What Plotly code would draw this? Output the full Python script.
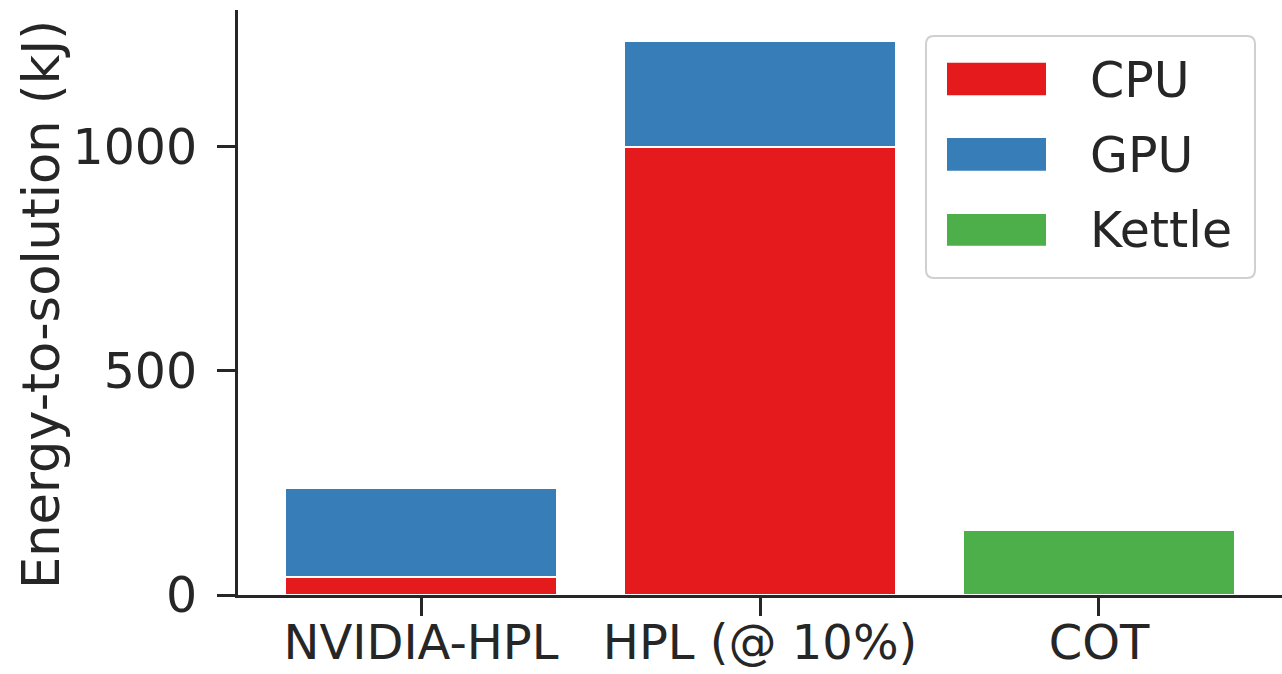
import plotly.graph_objects as go

# Energy-to-solution per workload, split by power source (kJ)
categories = ["NVIDIA-HPL", "HPL (@ 10%)", "COT"]
cpu_kj = [40, 1000, None]
gpu_kj = [199, 236, None]
kettle_kj = [None, None, 144]

series_names = ["CPU", "GPU", "Kettle"]
series_colors = ["#e41a1c", "#377eb8", "#4daf4a"]
y_ticks = [0, 500, 1000]

W, H = 1282, 674
L, R, T, B = 238, 0, 10, 79
FONT = "DejaVu Sans"
INK = "#262626"
FS = 49

fig = go.Figure()
for name, vals, col in zip(series_names, [cpu_kj, gpu_kj, kettle_kj], series_colors):
    fig.add_trace(go.Bar(
        x=categories, y=vals, name=name, width=0.8,
        marker=dict(color=col, line=dict(color="white", width=2)),
        showlegend=False,
    ))

fig.update_layout(
    width=W, height=H, barmode="stack",
    margin=dict(l=L, r=R, t=T, b=B, pad=0, autoexpand=False),
    paper_bgcolor="white", plot_bgcolor="white",
    font=dict(family=FONT, size=FS, color=INK),
    xaxis=dict(
        type="category", range=[-0.54, 2.54], automargin=False,
        showline=True, linecolor=INK, linewidth=3,
        ticks="outside", ticklen=18, tickwidth=3, tickcolor=INK,
        showgrid=False, zeroline=False, ticklabelstandoff=-15,
        tickfont=dict(family=FONT, size=48, color=INK),
    ),
    yaxis=dict(
        range=[0, 1305], tickvals=y_ticks, automargin=False,
        showline=True, linecolor=INK, linewidth=3,
        ticks="outside", ticklen=18, tickwidth=3, tickcolor=INK,
        showgrid=False, zeroline=False, ticklabelstandoff=10,
        tickfont=dict(family=FONT, size=FS, color=INK),
    ),
)

# pixel -> paper helpers for the hand-built legend and axis title
pw, ph = W - L - R, H - T - B
def px(x):
    return (x - L) / pw
def py(y):
    return (H - B - y) / ph

fig.add_annotation(
    text="Energy-to-solution (kJ)", textangle=-90,
    xref="paper", yref="paper", x=px(41), y=py(305),
    showarrow=False, xanchor="center", yanchor="middle",
    font=dict(family=FONT, size=51, color=INK),
)

# legend frame with rounded corners
x0, x1, y0, y1, r = px(926), px(1255), py(36), py(278), 8
rx, ry = r / pw, r / ph
path = (f"M {x0+rx},{y0} L {x1-rx},{y0} Q {x1},{y0} {x1},{y0-ry} "
        f"L {x1},{y1+ry} Q {x1},{y1} {x1-rx},{y1} "
        f"L {x0+rx},{y1} Q {x0},{y1} {x0},{y1+ry} "
        f"L {x0},{y0-ry} Q {x0},{y0} {x0+rx},{y0} Z")
fig.add_shape(type="path", path=path, xref="paper", yref="paper",
              fillcolor="rgba(255,255,255,0.8)", line=dict(color="#d0d0d0", width=2))

patch_rows = [(62.7, 95.3), (138, 170.7), (214, 245.7)]
for (ya, yb), name, col in zip(patch_rows, series_names, series_colors):
    fig.add_shape(type="rect", xref="paper", yref="paper",
                  x0=px(947), x1=px(1046), y0=py(yb), y1=py(ya),
                  fillcolor=col, line=dict(width=0))
    fig.add_annotation(text=name, xref="paper", yref="paper",
                       x=px(1088), y=py((ya + yb) / 2 + 1),
                       xanchor="left", yanchor="middle", showarrow=False,
                       font=dict(family=FONT, size=FS, color=INK))

fig.write_html("out.html")
